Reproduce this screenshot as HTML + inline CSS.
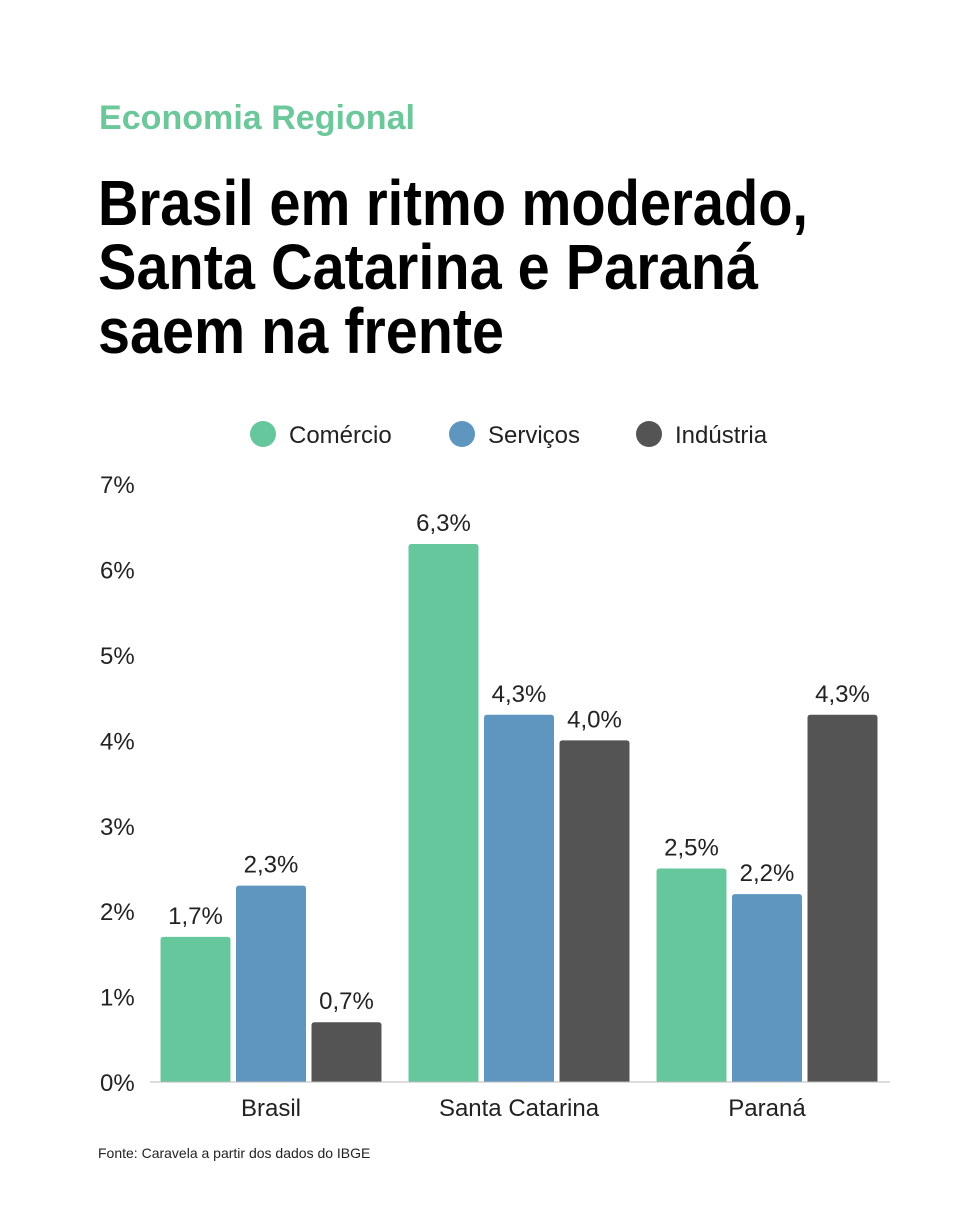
<!DOCTYPE html>
<html><head><meta charset="utf-8"><style>
html,body{margin:0;padding:0;background:#fff;}
svg{display:block;font-family:"Liberation Sans",sans-serif;}
</style></head><body>
<svg id="chart" width="980" height="1225" viewBox="0 0 980 1225">
<text x="99" y="129" font-size="34" font-weight="bold" fill="#6cc79a" textLength="316" lengthAdjust="spacingAndGlyphs">Economia Regional</text>
<g font-size="64" font-weight="bold" fill="#000">
<text x="98" y="225" textLength="710" lengthAdjust="spacingAndGlyphs">Brasil em ritmo moderado,</text>
<text x="98" y="289" textLength="660" lengthAdjust="spacingAndGlyphs">Santa Catarina e Paraná</text>
<text x="98" y="353" textLength="406" lengthAdjust="spacingAndGlyphs">saem na frente</text>
</g>
<g id="legend" font-size="24" fill="#222"></g>
<g id="yaxis" font-size="24" fill="#222"></g>
<g id="bars"></g>
<line x1="150" x2="890" y1="1082" y2="1082" stroke="#bbb" stroke-width="1"/>
<g id="xaxis" font-size="24" fill="#222"></g>
<text x="98" y="1158" font-size="14" fill="#222">Fonte: Caravela a partir dos dados do IBGE</text>
</svg>
<script>
const categories = ["Brasil","Santa Catarina","Paraná"];
const seriesNames = ["Comércio","Serviços","Indústria"];
const comercio = [1.7, 6.3, 2.5];
const servicos = [2.3, 4.3, 2.2];
const industria = [0.7, 4.0, 4.3];
const yTicks = [0,1,2,3,4,5,6,7];
const colors = ["#66c79c","#5f96bf","#545454"];
const series = [comercio, servicos, industria];
const NS = "http://www.w3.org/2000/svg";
function el(tag, attrs, parent){const e=document.createElementNS(NS,tag);for(const k in attrs)e.setAttribute(k,attrs[k]);parent.appendChild(e);return e;}
const y = v => 1082 - v*85.4;
const groupCenter = i => 271 + i*248;
const barW = 70, step = 75.5;
const fmt = v => v.toFixed(1).replace(".",",")+"%";
const yaxis = document.getElementById("yaxis");
yTicks.forEach(t=>{
  const tx = el("text",{x:100,y:y(t)+9},yaxis);
  
  
  tx.textContent = t+"%";
});
const bars = document.getElementById("bars");
categories.forEach((c,i)=>{
  series.forEach((s,j)=>{
    const x = groupCenter(i) + (j-1)*step - barW/2;
    const r = el("path",{d:`M${x},1082 V${y(s[i])+3} q0,-3 3,-3 H${x+barW-3} q3,0 3,3 V1082 Z`,fill:colors[j]},bars);
    
    
    const lb = el("text",{x:x+barW/2,y:y(s[i])-13,"text-anchor":"middle","font-size":"24",fill:"#222"},bars);
    
    
    lb.textContent = fmt(s[i]);
  });
  const xl = el("text",{x:groupCenter(i),y:1116,"text-anchor":"middle"},document.getElementById("xaxis"));
  
  
  xl.textContent = c;
});
const legend = document.getElementById("legend");
const lx = [263,462,649];
seriesNames.forEach((n,j)=>{
  const c = el("circle",{cx:lx[j],cy:434,r:13,fill:colors[j]},legend);
  
  
  const t = el("text",{x:lx[j]+26,y:443},legend);
  
  
  t.textContent = n;
});
</script>
</body></html>
